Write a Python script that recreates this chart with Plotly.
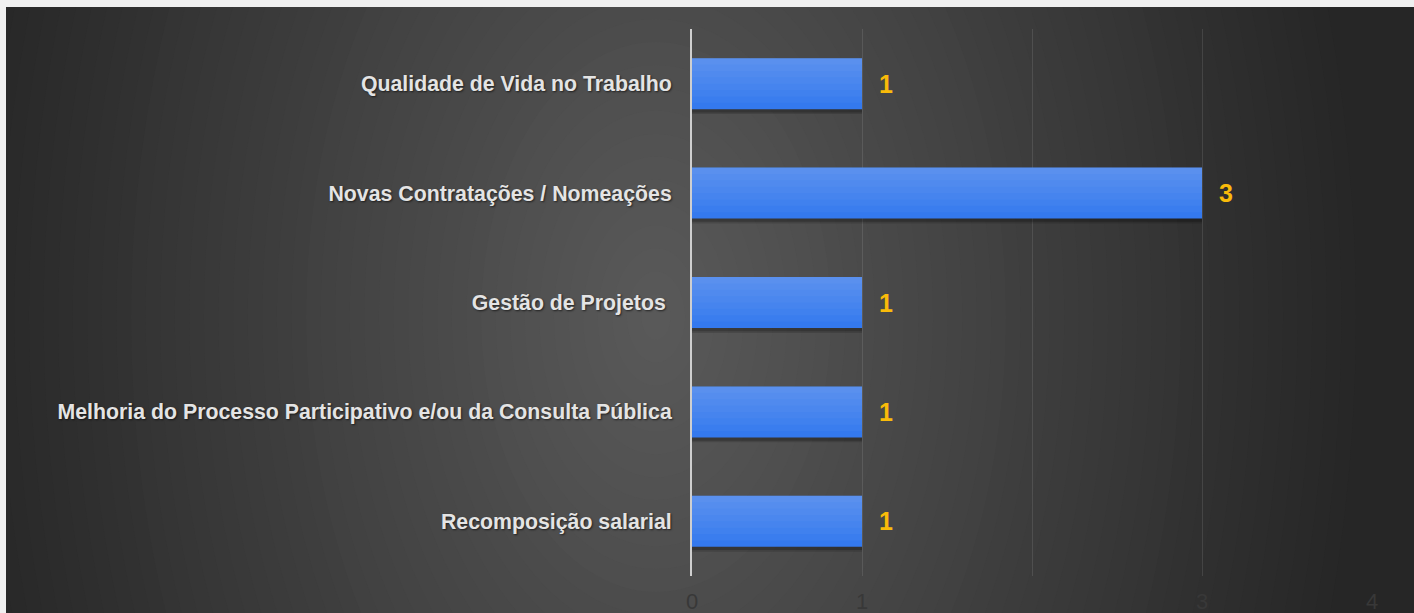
import plotly.graph_objects as go

# ---------------- data ----------------
categories = [
    "Qualidade de Vida no Trabalho",
    "Novas Contratações / Nomeações",
    "Gestão de Projetos ",
    "Melhoria do Processo Participativo e/ou da Consulta Pública",
    "Recomposição salarial",
]
values = [1, 3, 1, 1, 1]
x_tick_values = [0, 1, 2, 3, 4]
x_tick_labels = ["0", "1", "", "3", "4"]

# ---------------- geometry / style ----------------
W, H = 1408, 606
ML, MR, MT, MB = 686, 42, 22, 37
PW = W - ML - MR
PH = H - MT - MB


def xp(px):
    return (px - ML) / PW


def yp(py):
    return (H - MB - py) / PH


BAR_W = 0.466
BAR_COLOR = "#3479ee"
LABEL_FONT = "Liberation Sans, Arial, sans-serif"

fig = go.Figure()

# soft shadow under bars (two layers)
for off, alpha in [(0.045, 0.14), (0.03, 0.2)]:
    fig.add_trace(go.Bar(
        y=categories, x=values, orientation="h",
        width=BAR_W, offset=-BAR_W / 2 + off,
        marker=dict(color=f"rgba(0,0,0,{alpha})", line=dict(width=0)),
        hoverinfo="skip", showlegend=False,
    ))
# main bars
fig.add_trace(go.Bar(
    y=categories, x=values, orientation="h",
    width=BAR_W, offset=-BAR_W / 2,
    marker=dict(color=BAR_COLOR, line=dict(width=0)),
    showlegend=False, name="",
))
# light gradient overlays (top lighter)
N_SL = 7
for k in range(1, N_SL + 1):
    frac = k / (N_SL + 1)
    fig.add_trace(go.Bar(
        y=categories, x=values, orientation="h",
        width=BAR_W * frac, offset=-BAR_W / 2,
        marker=dict(color="rgba(255,255,255,0.03)", line=dict(width=0)),
        hoverinfo="skip", showlegend=False,
    ))

# value labels
for cat, v in zip(categories, values):
    fig.add_annotation(
        x=v, y=cat, text=str(v), showarrow=False,
        xanchor="left", yanchor="middle", xshift=15, yshift=0,
        font=dict(family=LABEL_FONT, size=25, color="#f9bb0a", weight="bold"),
    )

# radial background gradient via concentric ellipses
shapes = []
cx, cy = 650, 310
rx, ry = 700, 1100
N_BG = 48
for k in range(N_BG):
    s = 1 - k / N_BG
    r_mid = s - 0.5 / N_BG
    lvl = int(round(38 + 52 * (1 - r_mid)))
    shapes.append(dict(
        type="circle", xref="paper", yref="paper",
        x0=xp(cx - rx * s), x1=xp(cx + rx * s),
        y0=yp(cy + ry * s), y1=yp(cy - ry * s),
        fillcolor=f"rgb({lvl},{lvl},{lvl})",
        line=dict(width=0), layer="below",
    ))

fig.update_layout(
    width=W, height=H, autosize=False,
    margin=dict(l=ML, r=MR, t=MT, b=MB, pad=0, autoexpand=False),
    paper_bgcolor="rgb(38,38,38)",
    plot_bgcolor="rgba(0,0,0,0)",
    barmode="overlay",
    showlegend=False,
    shapes=shapes,
    xaxis=dict(
        range=[0, 4], tickvals=x_tick_values, ticktext=x_tick_labels,
        showgrid=True, gridcolor="rgba(255,255,255,0.10)", gridwidth=1,
        zeroline=False, showline=False, ticks="",
        ticklabelstandoff=10, automargin=False,
        tickfont=dict(family=LABEL_FONT, size=22, color="#383838"),
        fixedrange=True,
    ),
    yaxis=dict(
        autorange="reversed", type="category",
        showgrid=False, zeroline=False,
        showline=True, linecolor="#cfcfcf", linewidth=2,
        ticks="", ticklabelstandoff=14, automargin=False,
        tickfont=dict(family=LABEL_FONT, size=21.3, color="#e4e4e4",
                      weight="bold", shadow="1px 1px 2px rgba(0,0,0,0.6)"),
        fixedrange=True,
    ),
)

post = ("document.body.style.margin='7px 0 0 6px';"
        "document.body.style.background='#f0f0f0';"
        "document.body.style.overflow='hidden';")
fig.write_html("out.html", post_script=post, config={"displayModeBar": False})
